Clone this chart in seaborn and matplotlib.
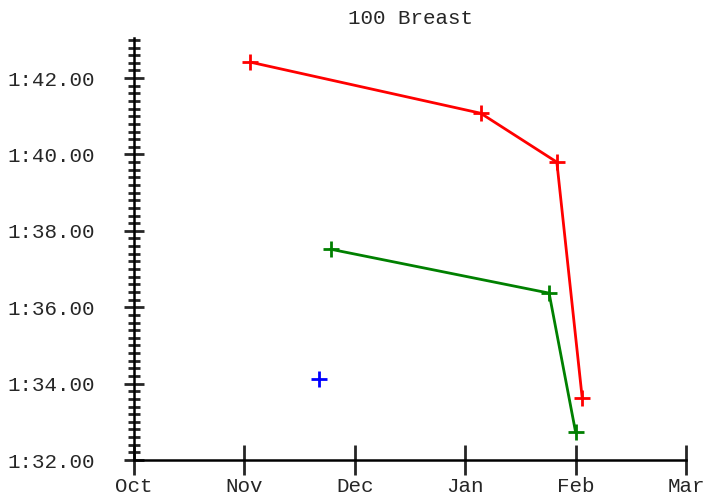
import matplotlib
matplotlib.use("Agg")
import matplotlib.pyplot as plt
from matplotlib.ticker import MultipleLocator, FuncFormatter
import seaborn as sns
import pandas as pd

sns.set_style("white")
plt.rcParams['font.family'] = ['Liberation Mono', 'DejaVu Sans Mono']

# month positions: Oct=0, Nov=1, ..., Mar=5
month_labels = ["Oct", "Nov", "Dec", "Jan", "Feb", "Mar"]

red_x = [1.05, 3.14, 3.83, 4.06]
red_y = [42.42, 41.08, 39.80, 33.62]
green_x = [1.78, 3.76, 4.00]
green_y = [37.52, 36.37, 32.73]
blue_x = [1.68]
blue_y = [34.12]

fig = plt.figure(figsize=(7.06, 4.97), dpi=100)
ax = fig.add_axes([134/706, 37/497, (686-134)/706, (460-38)/497])

for xs, ys, c in [(red_x, red_y, "red"), (green_x, green_y, "green"), (blue_x, blue_y, "blue")]:
    df = pd.DataFrame({"x": xs, "y": ys})
    sns.lineplot(data=df, x="x", y="y", sort=False, color=c, lw=2,
                 marker="+", markersize=11, markeredgewidth=2, markeredgecolor=c, ax=ax)

ax.set_xlim(0, 5)
ax.set_ylim(32, 43.05)
ax.set_xticks(range(len(month_labels)))
ax.set_xticklabels(month_labels)
ax.yaxis.set_major_locator(MultipleLocator(2))
ax.yaxis.set_minor_locator(MultipleLocator(0.2))
ax.yaxis.set_major_formatter(FuncFormatter(lambda v, p: "1:%05.2f" % v))
ax.set_xlabel("")
ax.set_ylabel("")

for s in ["top", "right"]:
    ax.spines[s].set_visible(False)
for s in ["left", "bottom"]:
    ax.spines[s].set_linewidth(1.8)
    ax.spines[s].set_color("black")

ax.tick_params(axis="y", which="major", direction="inout", length=14, width=2, labelsize=15, pad=21, left=True)
ax.tick_params(axis="y", which="minor", direction="inout", length=8, width=2, left=True)
ax.tick_params(axis="x", which="major", direction="inout", length=21, width=2, labelsize=15, pad=2, bottom=True)

ax.set_title("100 Breast", fontsize=15, pad=10)

fig.savefig("out.png", dpi=100)
